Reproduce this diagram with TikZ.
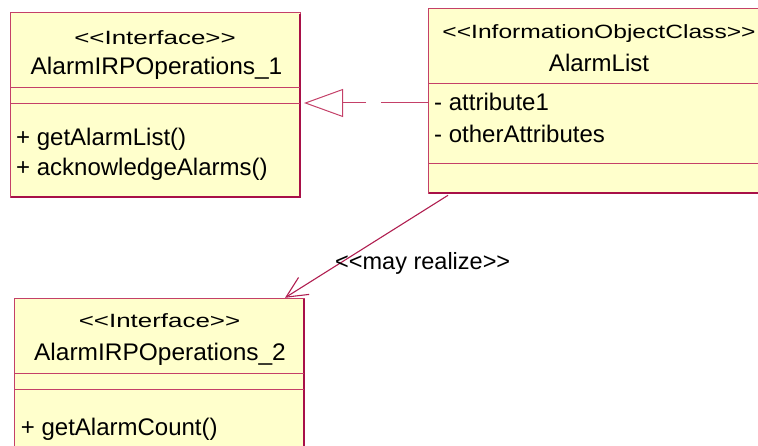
\documentclass[tikz,border=0pt]{standalone}
\usepackage{fontspec}
\usetikzlibrary{arrows.meta,calc}
\newfontfamily\umlfont{Liberation Sans}
\definecolor{umlfill}{RGB}{255,255,204}
\definecolor{umledge}{RGB}{196,64,104}
\definecolor{umldark}{RGB}{168,16,72}
\definecolor{umlline}{RGB}{176,30,80}
\newcommand{\stereo}[2]{\scalebox{#1}[0.8]{#2}}
\begin{document}
\begin{tikzpicture}[x=1pt,y=-1pt,
  classbox/.style={draw=umledge, fill=umlfill, line width=1pt, rectangle, inner sep=0pt, outer sep=0pt, anchor=north west},
  divider/.style={draw=umledge, line width=0.9pt},
  shade/.style={draw=umldark, line width=2pt},
  txt/.style={font=\umlfont\fontsize{24}{28}\selectfont, inner sep=0pt, anchor=base},
  txtl/.style={txt, anchor=base west},
  conn/.style={draw=umlline, line width=1.1pt}
]
\useasboundingbox (0,0) rectangle (758,446);
% box 1
\node[classbox, minimum width=290pt, minimum height=184.5pt] (ia) at (10,13) {};
\draw[shade] ($(ia.north east)+(0,1)$) -- (ia.south east) -- ($(ia.south west)+(1,0)$);
\draw[divider] ($(ia.north west)+(0,74.5)$) -- ($(ia.north east)+(0,74.5)$);
\draw[divider] ($(ia.north west)+(0,90.5)$) -- ($(ia.north east)+(0,90.5)$);
\node[txt] (ia1) at (155,45) {\stereo{1.08}{<<Interface>>}};
\node[txt] (ia2) at (156.5,74.3) {\scalebox{1.02}[1]{AlarmIRPOperations\_1}};
\node[txtl] (ia3) at (16,146) {+ getAlarmList()};
\node[txtl] (ia4) at (16,176) {+ acknowledgeAlarms()};
% box 2
\node[classbox, minimum width=344pt, minimum height=184.3pt] (al) at (428,9) {};
\draw[shade] ($(al.south west)+(1,0)$) -- (al.south east);
\draw[divider] ($(al.north west)+(0,74.3)$) -- ($(al.north east)+(0,74.3)$);
\draw[divider] ($(al.north west)+(0,154.3)$) -- ($(al.north east)+(0,154.3)$);
\node[txt] (al1) at (599,38.3) {\stereo{1.025}{<<InformationObjectClass>>}};
\node[txt] (al2) at (599,71.7) {AlarmList};
\node[txtl] (al3) at (434,111) {- attribute1};
\node[txtl] (al4) at (434,142.7) {- otherAttributes};
% box 3
\node[classbox, minimum width=290.3pt, minimum height=160pt] (ib) at (14,298.3) {};
\draw[shade] ($(ib.north east)+(0,1)$) -- (ib.south east);
\draw[divider] ($(ib.north west)+(0,75)$) -- ($(ib.north east)+(0,75)$);
\draw[divider] ($(ib.north west)+(0,91)$) -- ($(ib.north east)+(0,91)$);
\node[txt] (ib1) at (159.5,328) {\stereo{1.08}{<<Interface>>}};
\node[txt] (ib2) at (160,360) {\scalebox{1.02}[1]{AlarmIRPOperations\_2}};
\node[txtl] (ib3) at (20.7,435) {+ getAlarmCount()};
% realization
\coordinate (rs) at ($(al.north west)+(0,94)$);
\coordinate (rt) at ($(ia.north east)+(4,90)$);
\draw[draw=umledge, line width=1pt, dash pattern=on 47pt off 15pt on 23pt off 200pt,
  -{Triangle[open, length=39pt, width=28pt, fill=white]}] (rs) -- (rt);
% dependency
\coordinate (ds) at ($(al.south west)+(20,2)$);
\coordinate (dt) at ($(ib.north west)+(271,-0.5)$);
\draw[conn, -{Straight Barb[length=21pt, width=20pt, line width=1.1pt]}] (ds) -- (dt);
\node[txtl, font=\umlfont\fontsize{23.5}{28}\selectfont] (lbl) at (335,269.3) {<<may realize>>};
\end{tikzpicture}
\end{document}
